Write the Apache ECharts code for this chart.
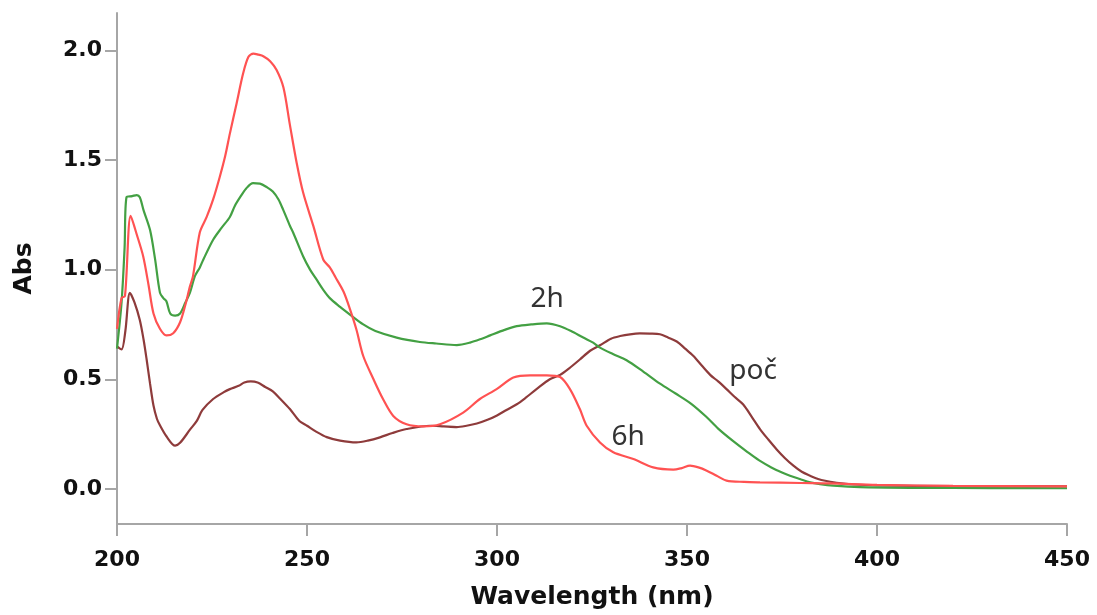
<!DOCTYPE html>
<html>
<head>
<meta charset="utf-8">
<script src="https://cdn.jsdelivr.net/npm/echarts@6/dist/echarts.min.js"></script>
<style>
html,body{margin:0;padding:0;background:#fff;}
#chart{width:1097px;height:615px;}
</style>
</head>
<body>
<div id="chart"></div>
<script>
// ---- Data ----
const xTicks = [200, 250, 300, 350, 400, 450];
const yTicks = [0, 0.5, 1.0, 1.5, 2.0];

const seriesNames = ['6h', '2h', 'poč'];

// 6h (red)
const redNm  = [200,201.2,202.1,203.6,205.2,206.9,208.3,209.6,211.3,213,214.8,216.6,218,219.2,220,221.8,223.6,225.3,227,228.5,229.7,231.5,233.2,234.6,235.9,237.2,238.5,240.3,242,243.8,245.5,247.3,249,251.7,254.3,256,257.5,259.6,261.3,263,264.8,267.5,270,272.7,276.2,280.6,285,291.1,295.5,299.9,304.3,308.7,313.1,316.6,319.2,321.8,323.6,327.1,330.6,335.9,341.1,346.4,348.6,350.8,353,355.2,357.8,360.4,365,369.2,380,388,400,420,450];
const redAbs = [0.73,0.87,0.88,1.245,1.16,1.06,0.93,0.80,0.73,0.70,0.71,0.76,0.84,0.924,0.97,1.17,1.24,1.32,1.42,1.52,1.62,1.76,1.895,1.97,1.985,1.98,1.973,1.95,1.91,1.83,1.66,1.485,1.35,1.197,1.045,1.01,0.965,0.90,0.82,0.727,0.606,0.50,0.41,0.333,0.295,0.285,0.295,0.348,0.41,0.455,0.508,0.518,0.518,0.51,0.455,0.364,0.288,0.212,0.167,0.136,0.098,0.088,0.095,0.106,0.098,0.083,0.06,0.038,0.032,0.03,0.027,0.025,0.018,0.014,0.012];

// 2h (green)
const greenNm  = [200,201.2,202,202.5,204,205.2,206,207,208.7,210,211.3,212.2,213,214,215.3,216.6,218,219.2,220.5,221.8,222.7,225.3,227.5,229.7,231,232.4,234,235.8,237.6,239.5,241,242.5,243.8,245.5,246.4,249,250.8,252.5,254.2,256,258.7,261.3,264.8,268,273.6,279.7,284,289.4,292.9,296,298.2,302,305.2,309,313.1,316.6,319.5,322.7,325.3,327.1,330.5,334.1,338.5,342.9,347,351.2,355,358.2,362,366,369,372.2,375,377.1,379.7,382.4,385,388.5,395.5,410,430,450];
const greenAbs = [0.64,0.85,1.1,1.33,1.335,1.34,1.33,1.27,1.18,1.05,0.895,0.87,0.856,0.80,0.79,0.80,0.85,0.895,0.97,1.01,1.045,1.136,1.19,1.24,1.29,1.33,1.37,1.394,1.392,1.375,1.356,1.32,1.27,1.2,1.167,1.06,1.0,0.955,0.91,0.87,0.83,0.795,0.75,0.72,0.69,0.67,0.663,0.656,0.667,0.685,0.70,0.725,0.742,0.75,0.755,0.742,0.72,0.69,0.667,0.644,0.615,0.587,0.535,0.48,0.435,0.387,0.33,0.275,0.22,0.167,0.13,0.098,0.075,0.06,0.045,0.03,0.022,0.015,0.008,0.005,0.004,0.003];

// poč (brown)
const brownNm  = [200,201.2,202.2,203.4,204.6,206,207,207.8,208.7,209.6,210.5,211.3,213,215.3,216.6,219.2,221,222.5,225.3,228,229.7,232,233.5,235.2,237,239,241,243,245.5,248,250,252.5,255.2,258.7,263,266,269.2,272.5,276.2,282.4,286,289.4,292,294.7,297.5,300,302.5,305.2,307.5,310.4,313.9,316.6,319,321.8,324.5,327.1,330,332.4,335,337.6,340.2,342.9,345,347.3,349.5,351.7,354,356.1,358.2,360.4,362.5,364.8,367,369.2,371.4,373.6,375.8,378,380.2,382.4,384.5,386.7,390,393.8,400,420,450];
const brownAbs = [0.65,0.636,0.72,0.894,0.85,0.77,0.68,0.59,0.48,0.38,0.32,0.29,0.24,0.197,0.21,0.27,0.31,0.36,0.41,0.44,0.455,0.47,0.485,0.49,0.485,0.465,0.445,0.41,0.364,0.31,0.288,0.26,0.236,0.22,0.212,0.22,0.235,0.255,0.273,0.288,0.285,0.282,0.288,0.298,0.315,0.335,0.36,0.386,0.415,0.455,0.5,0.52,0.55,0.59,0.63,0.655,0.685,0.697,0.705,0.709,0.708,0.705,0.69,0.672,0.64,0.606,0.56,0.52,0.49,0.455,0.42,0.385,0.33,0.273,0.225,0.18,0.14,0.106,0.078,0.06,0.045,0.036,0.026,0.02,0.016,0.013,0.012];

// annotation anchors (data coordinates)
const labelText = ['6h', '2h', 'poč'];
const labelNm   = [334.5, 313.2, 367.4];
const labelAbs  = [0.236, 0.868, 0.536];

// ---- Chart ----
const colors = ['#ff5252', '#43a043', '#8e3b3b'];
const zip = (a, b) => a.map((v, i) => [v, b[i]]);
const xs = [redNm, greenNm, brownNm];
const ys = [redAbs, greenAbs, brownAbs];

const axisGrey = '#a6a6a6';
const labelFont = { fontFamily: 'DejaVu Sans', fontWeight: 'bold', fontSize: 22, color: '#111111' };
const nameFont = { fontFamily: 'DejaVu Sans', fontWeight: 'bold', fontSize: 25, color: '#111111' };

const chart = echarts.init(document.getElementById('chart'), null, { renderer: 'canvas' });
chart.setOption({
  animation: false,
  backgroundColor: '#ffffff',
  grid: { left: 117, right: 30, top: 13, bottom: 90 },
  xAxis: {
    type: 'value', min: xTicks[0], max: xTicks[xTicks.length - 1], interval: 50,
    name: 'Wavelength (nm)', nameLocation: 'middle', nameGap: 61, nameTextStyle: nameFont,
    axisLine: { show: true, onZero: false, lineStyle: { color: axisGrey, width: 2 } },
    axisTick: { show: true, length: 12, lineStyle: { color: axisGrey, width: 2 } },
    axisLabel: Object.assign({ margin: 25 }, labelFont),
    splitLine: { show: false }
  },
  yAxis: {
    type: 'value', min: -0.16, max: 2.17,
    name: 'Abs', nameLocation: 'middle', nameGap: 80, nameTextStyle: nameFont,
    axisLine: { show: true, onZero: false, lineStyle: { color: axisGrey, width: 2 } },
    axisTick: { show: true, length: 12, customValues: yTicks, lineStyle: { color: axisGrey, width: 2 } },
    axisLabel: Object.assign({ margin: 15, customValues: yTicks, formatter: v => v.toFixed(1) }, labelFont),
    splitLine: { show: false }
  },
  series: seriesNames.map((n, i) => ({
    name: n,
    type: 'line',
    data: zip(xs[i], ys[i]),
    showSymbol: false,
    smooth: 0.3,
    lineStyle: { color: colors[i], width: 2.2 },
    itemStyle: { color: colors[i] },
    z: 3 - i,
    markPoint: {
      symbol: 'circle', symbolSize: 1,
      itemStyle: { color: 'rgba(0,0,0,0)' },
      label: { show: true, position: 'inside', formatter: labelText[i], fontFamily: 'Noto Sans', fontSize: 28, color: '#333333' },
      data: [{ coord: [labelNm[i], labelAbs[i]] }]
    }
  }))
});
</script>
</body>
</html>
